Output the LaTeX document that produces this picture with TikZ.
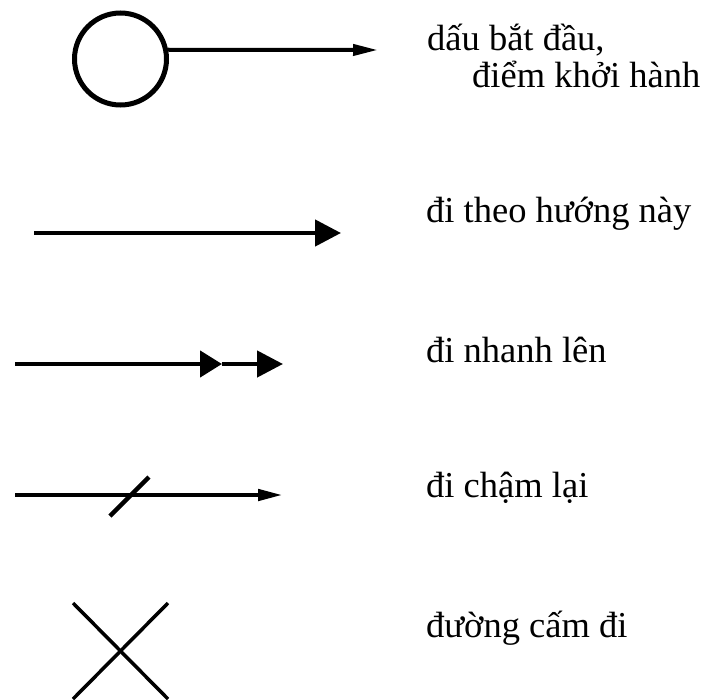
\documentclass[tikz,border=0pt]{standalone}
\usepackage{fontspec}
\setmainfont{Liberation Serif}
\usetikzlibrary{arrows.meta,positioning}

\begin{document}
\begin{tikzpicture}[%
    x=1pt, y=-1pt,              % one unit per pixel, y going down
    font=\fontsize{36.5}{42}\selectfont,
    ]
% -------------------------------------------------
% A few styles
\tikzset{
label/.style={anchor=base west, inner sep=0pt},
sym/.style={draw, line width=4.5pt},
thin head/.style={-{Triangle[length=25pt, width=11pt]}},
fat head/.style={-{Triangle[length=26pt, width=26pt]}},
}
\useasboundingbox (0,0) rectangle (709,699);
% -------------------------------------------------
% Start mark
\node [draw, circle, line width=5pt, minimum size=92pt, inner sep=0pt] (start) at (120.5,59) {};
\coordinate (s_end) at (378,50);
\draw [sym, line width=4pt, thin head] (start.11) -- (s_end);
\node [label] (l_start) at (427,50) {dấu bắt đầu,};
\node [label] (l_start2) at (472,87) {điểm khởi hành};

% Go this way
\coordinate (g_beg) at (34,233);
\coordinate (g_end) at (341,233);
\draw [sym, fat head] (g_beg) -- (g_end);
\node [label] (l_go) at (426,222) {đi theo hướng này};

% Faster
\coordinate (f_beg) at (15,364);
\coordinate (f_mid) at (222,364);
\coordinate (f_end) at (283,364);
\draw [sym, -{Triangle[length=22pt, width=26pt]}] (f_beg) -- (f_mid);
\draw [sym, fat head] (f_mid) -- (f_end);
\node [label] (l_fast) at (426,362) {đi nhanh lên};

% Slower
\coordinate (w_beg) at (15,495);
\coordinate (w_end) at (283,495);
\draw [sym, thin head] (w_beg) -- (w_end);
\coordinate (k1) at (110,516);
\coordinate (k2) at (149,477);
\draw [sym] (k1) -- (k2);
\node [label] (l_slow) at (426,497) {đi chậm lại};

% No way
\coordinate (x1) at (73,603);
\coordinate (x2) at (168,699);
\coordinate (x3) at (168,603);
\coordinate (x4) at (73,699);
\draw [sym, line width=3.5pt] (x1) -- (x2);
\draw [sym, line width=3.5pt] (x3) -- (x4);
\node [label] (l_stop) at (426,637) {đường cấm đi};

\end{tikzpicture}
\end{document}
